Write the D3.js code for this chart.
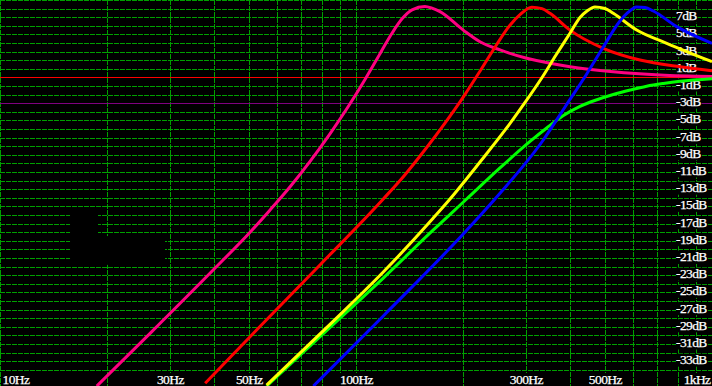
<!DOCTYPE html>
<html>
<head>
<meta charset="utf-8">
<script src="https://cdn.jsdelivr.net/npm/d3@7"></script>
<style>
  body { margin: 0; background: #000; }
  svg { display: block; background: #000; }
  .lbl text { fill: #fff; stroke: #fff; stroke-width: 0.25px; font-family: "Liberation Serif", "Times New Roman", serif; font-size: 13.5px; letter-spacing: -0.6px; }
</style>
</head>
<body>
<div class="chart"></div>
<script>
// frequency response curves, [Hz, dB]
var pinkCurve = [[18.7, -35.9], [26.4, -29.76], [39.7, -22.4], [50.4, -18.0], [57.3, -15.44], [65.3, -12.72],
  [74.3, -9.77], [84.5, -6.56], [96.2, -3.07], [106.0, -0.24], [116.8, 2.76], [126.2, 5.13], [134.7, 6.81],
  [143.7, 7.86], [156.2, 8.24], [163.5, 8.05], [172.2, 7.64], [200.1, 5.5], [223, 4.15], [253.8, 3.19],
  [301.7, 2.22], [350.7, 1.64], [399.1, 1.24], [528.1, 0.66], [714.4, 0.28], [1000, 0.1]];
var redCurve = [[37.7, -35.57], [50.4, -30.15], [79.2, -21.81], [119.3, -14.14], [137.3, -11.31],
  [156.2, -8.41], [177.8, -5.31], [200.1, -2.29], [223, 0.72], [248.5, 3.83], [270.7, 6.07], [288.9, 7.29],
  [311.6, 8.17], [333, 7.99], [350.7, 7.45], [399.1, 5.5], [495, 3.38], [627.7, 2.02], [813, 1.24], [1000, 0.78]];
var yellowCurve = [[56.1, -35.79], [82.8, -29.07], [119.3, -22.63], [164.9, -16.35], [183.7, -14.14],
  [223, -9.84], [265, -5.88], [296.4, -3.09], [332.4, -0.07], [364.6, 2.6], [399.1, 5.13], [425.8, 6.97],
  [445.6, 7.72], [469.1, 8.19], [500.5, 8.01], [528.1, 7.45], [614.4, 5.51], [746.1, 3.97], [1000, 1.83]];
var greenCurve = [[56.1, -35.9], [82.8, -29.42], [119.3, -23.33], [164.9, -17.74], [204.6, -14.14],
  [253.8, -10.53], [308.2, -7.45], [343.3, -5.88], [380.6, -4.49], [425.8, -3.38], [472.7, -2.63],
  [528.1, -1.99], [589.5, -1.47], [655.5, -1.03], [730, -0.71], [813, -0.45], [1000, -0.15]];
var blueCurve = [[75.9, -35.9], [119.3, -27.74], [200.1, -18.21], [253.8, -13.48], [335.8, -7.28],
  [386.5, -3.44], [444.7, 0.4], [495, 3.53], [551.5, 6.56], [580.7, 7.55], [614.4, 8.19], [648.3, 8.13],
  [684.1, 7.72], [795.7, 5.9], [1000, 3.97]];

var seriesColors = ["#ff0080", "#ff0000", "#00ff00", "#ffff00", "#0000ff"];

var freqTicks = [10, 30, 50, 100, 300, 500, 1000];
var freqLabels = ["10Hz", "30Hz", "50Hz", "100Hz", "300Hz", "500Hz", "1kHz"];
var dbTicks = [7, 5, 3, 1, -1, -3, -5, -7, -9, -11, -13, -15, -17, -19, -21, -23, -25, -27, -29, -31, -33];

var width = 712;
var height = 386;

var svg = d3.select(".chart")
  .append("svg")
  .attr("width", width)
  .attr("height", height);

var xScale = d3.scaleLog().domain([10, 1000]).range([0, 712]);
var yScale = d3.scaleLinear().domain([9, -36]).range([0, 387]);

function crisp(v) { return Math.round(v) + 0.5; }

// grid
var grid = svg.append("g").attr("stroke", "#00a000").attr("stroke-dasharray", "5,1");
grid.selectAll(".v")
  .data(xScale.ticks())
  .enter().append("line")
  .attr("x1", d => crisp(xScale(d)))
  .attr("x2", d => crisp(xScale(d)))
  .attr("y1", 0)
  .attr("y2", height);
grid.selectAll(".h")
  .data(d3.range(9, -35, -1))
  .enter().append("line")
  .attr("x1", 0)
  .attr("x2", width)
  .attr("y1", d => crisp(yScale(d)))
  .attr("y2", d => crisp(yScale(d)));

// reference lines at 0dB and -3dB
svg.append("line")
  .attr("x1", 0).attr("x2", width)
  .attr("y1", crisp(yScale(0))).attr("y2", crisp(yScale(0)))
  .attr("stroke", "#ff0000");
svg.append("line")
  .attr("x1", 0).attr("x2", width)
  .attr("y1", crisp(yScale(-3))).attr("y2", crisp(yScale(-3)))
  .attr("stroke", "#800080");

// blacked out patch left of 30Hz
svg.append("rect")
  .attr("x", xScale(15.73)).attr("y", yScale(-15.4))
  .attr("width", xScale(18.85) - xScale(15.73)).attr("height", yScale(-21.8) - yScale(-15.4))
  .attr("fill", "#000");
svg.append("rect")
  .attr("x", xScale(18.85)).attr("y", yScale(-18.45))
  .attr("width", xScale(29.07) - xScale(18.85)).attr("height", yScale(-21.8) - yScale(-18.45))
  .attr("fill", "#000");

// dB labels on the right
var yAxis = svg.append("g")
  .attr("class", "lbl")
  .attr("transform", "translate(676, 0)")
  .call(d3.axisRight(yScale).tickValues(dbTicks).tickSize(0).tickPadding(0).tickFormat(d => d + "dB"));
yAxis.select(".domain").remove();
yAxis.selectAll(".tick text").attr("dy", null).attr("y", 2.5);
yAxis.selectAll(".tick").each(function () {
  var t = d3.select(this).select("text");
  var w = t.node().getComputedTextLength();
  d3.select(this).insert("rect", "text")
    .attr("x", 0).attr("y", -8).attr("width", w + 1).attr("height", 13)
    .attr("fill", "#000");
});

// Hz labels along the bottom
var xAxis = svg.append("g")
  .attr("class", "lbl")
  .attr("transform", "translate(0, 384)")
  .call(d3.axisBottom(xScale).tickValues(freqTicks).tickSize(0).tickPadding(0)
    .tickFormat((d, i) => freqLabels[i]));
xAxis.select(".domain").remove();
xAxis.selectAll(".tick text")
  .attr("dy", null)
  .attr("y", 0)
  .attr("x", (d, i) => i == 0 ? 2 : (i == freqTicks.length - 1 ? -2 : 0))
  .attr("text-anchor", (d, i) => i == 0 ? "start" : (i == freqTicks.length - 1 ? "end" : "middle"));
xAxis.selectAll(".tick").each(function (d, i) {
  var t = d3.select(this).select("text");
  var w = t.node().getComputedTextLength();
  var x0 = i == 0 ? 1 : (i == freqTicks.length - 1 ? -w - 3 : -w / 2 - 1);
  d3.select(this).insert("rect", "text")
    .attr("x", x0).attr("y", -11).attr("width", w + 2).attr("height", 13)
    .attr("fill", "#000");
});

// curves
var line = d3.line()
  .x(d => xScale(d[0]))
  .y(d => yScale(d[1]))
  .curve(d3.curveMonotoneX);

var curves = [pinkCurve, redCurve, greenCurve, yellowCurve, blueCurve];
svg.selectAll(".curve")
  .data(curves)
  .enter().append("path")
  .attr("class", "curve")
  .attr("d", line)
  .attr("fill", "none")
  .attr("stroke", (d, i) => seriesColors[i])
  .attr("stroke-width", 3);
</script>
</body>
</html>
